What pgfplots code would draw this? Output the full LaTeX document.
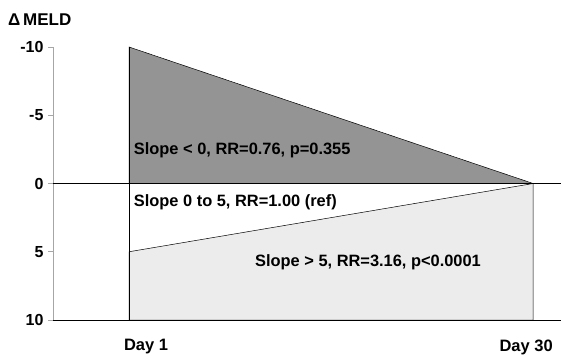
\documentclass[border=0pt]{standalone}
\usepackage{pgfplots}
\pgfplotsset{compat=1.18}
\usepackage{fontspec}
\setmainfont{Liberation Sans}
\definecolor{darkfill}{RGB}{148,148,148}
\definecolor{lightfill}{RGB}{236,236,236}
\begin{document}
\begin{tikzpicture}[x=1pt,y=1pt]
\path[use as bounding box] (0,0) rectangle (561,359);
\begin{axis}[at={(53pt,39pt)}, anchor=south west, scale only axis,
  width=508pt, height=273pt,
  xmin=-4.455, xmax=32, ymin=-10, ymax=10, y dir=reverse,
  axis x line*=bottom, axis y line*=left,
  x axis line style={draw=none},
  y axis line style={draw=gray!70, line width=0.6pt, -},
  ytick={-10,-5,0,5,10},
  xtick={2.22,29.5}, xticklabels={Day 1, Day 30},
  x tick style={draw=none},
  y tick style={draw=gray!70, line width=0.6pt},
  tick align=outside, major tick length=5pt,
  /pgf/number format/assume math mode=true,
  yticklabel style={font=\fontsize{16}{18}\selectfont\bfseries, xshift=-1pt},
  xticklabel style={font=\fontsize{16.5}{18}\selectfont\bfseries, yshift=-11pt},
  clip=false,
]
\addplot[fill=darkfill, draw=black, line width=0.5pt] coordinates {(1,-10) (30,0) (1,0)} -- cycle;
\addplot[fill=lightfill, draw=black, line width=0.5pt] coordinates {(1,5) (30,0) (30,10) (1,10)} -- cycle;
\addplot[black, line width=0.5pt] coordinates {(1,-10) (1,10)};
\addplot[black, line width=1.4pt] coordinates {(-4.455,0) (32,0)};
\addplot[black, line width=1.0pt] coordinates {(-4.455,10) (32,10)};
\node[anchor=west, font=\fontsize{16.4}{18}\selectfont\bfseries] at (axis cs:1.1,-2.4) {Slope < 0, RR=0.76, p=0.355};
\node[anchor=west, font=\fontsize{16.4}{18}\selectfont\bfseries] at (axis cs:1.1,1.35) {Slope 0 to 5, RR=1.00 (ref)};
\node[anchor=west, font=\fontsize{16.4}{18}\selectfont\bfseries] at (axis cs:9.8,5.75) {Slope > 5, RR=3.16, p<0.0001};
\end{axis}
\node[anchor=west, font=\fontsize{17}{19}\selectfont\bfseries, inner sep=0pt] at (8,339) {Δ\,MELD};
\end{tikzpicture}
\end{document}
